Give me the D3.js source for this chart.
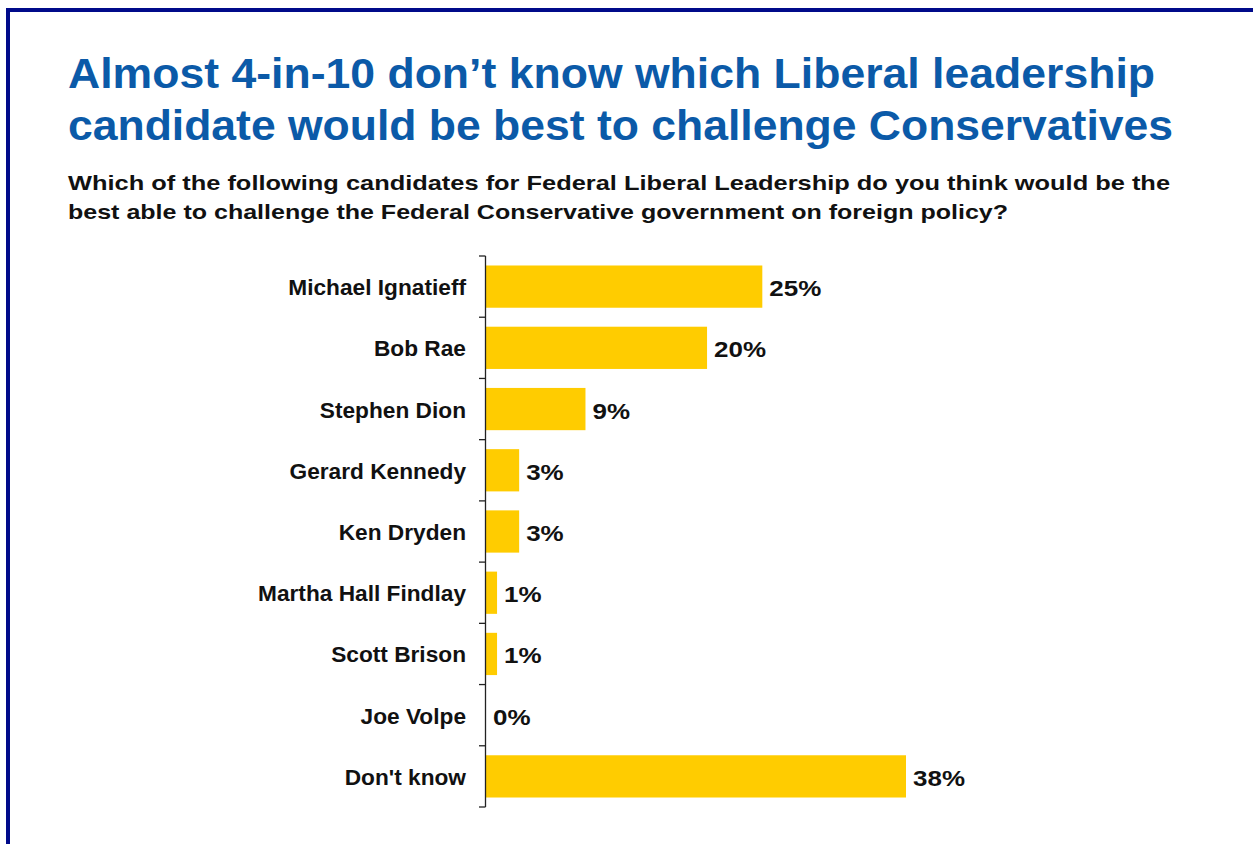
<!DOCTYPE html>
<html><head><meta charset="utf-8">
<script src="https://cdn.jsdelivr.net/npm/d3@7"></script>
<style>body{margin:0;background:#fff;} svg{display:block;}</style>
</head><body>
<script>
const categories = ["Michael Ignatieff","Bob Rae","Stephen Dion","Gerard Kennedy","Ken Dryden","Martha Hall Findlay","Scott Brison","Joe Volpe","Don't know"];
const values = [25,20,9,3,3,1,1,0,38];
const titleLines = ["Almost 4-in-10 don\u2019t know which Liberal leadership","candidate would be best to challenge Conservatives"];
const subtitleLines = ["Which of the following candidates for Federal Liberal Leadership do you think would be the","best able to challenge the Federal Conservative government on foreign policy?"];

const W = 1253, H = 844;
const svg = d3.select("body").append("svg").attr("width", W).attr("height", H);
svg.append("rect").attr("x",8).attr("y",10).attr("width",1260).attr("height",860)
  .attr("fill","none").attr("stroke","#000a8a").attr("stroke-width",4);

const font = "'Liberation Sans', Arial, Helvetica, sans-serif";
function stretch(sel, factor){
  sel.each(function(){
    const L = this.getComputedTextLength();
    d3.select(this).attr("textLength", L*factor).attr("lengthAdjust","spacingAndGlyphs");
  });
}
const titleWidths = [1087, 1105];
svg.append("g").selectAll("text").data(titleLines).join("text")
  .attr("x",68).attr("y",(d,i)=>88+i*52)
  .attr("font-family",font).attr("font-weight","bold").attr("font-size",42)
  .attr("fill","#0b5aa8").attr("textLength",(d,i)=>titleWidths[i]).attr("lengthAdjust","spacingAndGlyphs").text(d=>d);
const subWidths = [1102, 940];
svg.append("g").selectAll("text").data(subtitleLines).join("text")
  .attr("x",68).attr("y",(d,i)=>190+i*29)
  .attr("font-family",font).attr("font-weight","bold").attr("font-size",21)
  .attr("fill","#111").attr("textLength",(d,i)=>subWidths[i]).attr("lengthAdjust","spacingAndGlyphs").text(d=>d);

const x0 = 486;
const x = d3.scaleLinear().domain([0,38]).range([x0, 906]);
const y = d3.scaleBand().domain(categories).range([256, 807]).paddingInner(0.31).paddingOuter(0.155);

svg.append("g").selectAll("rect").data(categories).join("rect")
  .attr("x",x(0)).attr("y",d=>y(d)).attr("width",(d,i)=>x(values[i])-x(0)).attr("height",y.bandwidth())
  .attr("fill","#ffcc00");

const bounds = d3.range(categories.length+1).map(i=>256 + i*(807-256)/categories.length);
const ax = svg.append("g");
ax.append("line").attr("x1",x0-0.5).attr("x2",x0-0.5).attr("y1",256).attr("y2",807).attr("stroke","#222").attr("stroke-width",1.3);
ax.selectAll("line.t").data(bounds).join("line").attr("class","t")
  .attr("x1",x0-7).attr("x2",x0-0.5).attr("y1",d=>d).attr("y2",d=>d).attr("stroke","#222").attr("stroke-width",1.3);

const labs = svg.append("g").selectAll("text").data(categories).join("text")
  .attr("x",466).attr("y",d=>y(d)+y.bandwidth()/2+8.5)
  .attr("text-anchor","end").attr("font-family",font).attr("font-weight","bold").attr("font-size",21.5)
  .attr("fill","#111").text(d=>d);
stretch(labs, 1.055);

const vals = svg.append("g").selectAll("text").data(categories).join("text")
  .attr("x",(d,i)=>x(values[i])+7).attr("y",d=>y(d)+y.bandwidth()/2+9.5)
  .attr("font-family",font).attr("font-weight","bold").attr("font-size",22)
  .attr("fill","#111").text((d,i)=>values[i]+"%");
stretch(vals, 1.18);
</script>
</body></html>
